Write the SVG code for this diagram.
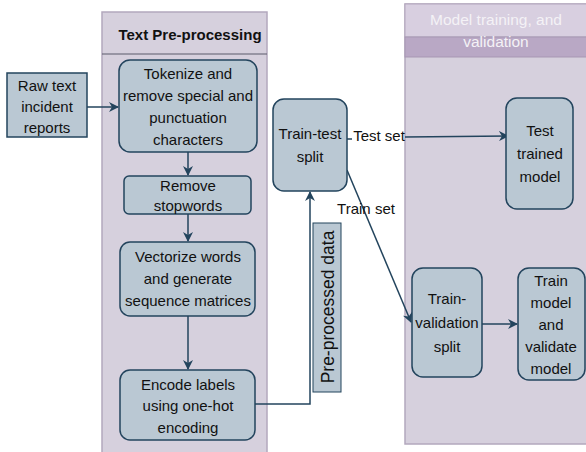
<svg xmlns="http://www.w3.org/2000/svg" width="586" height="452" viewBox="0 0 586 452">
<defs>
<style>
.cont{fill:#d6d0dd;stroke:#b3a8bd;stroke-width:1.5}
.node{fill:#bac8d3;stroke:#23445d;stroke-width:1.5}
.t{font-family:"Liberation Sans",Arial,sans-serif;font-size:15px;fill:#111111;text-anchor:middle}
.hb{font-family:"Liberation Sans",Arial,sans-serif;font-size:15px;font-weight:bold;fill:#111;text-anchor:middle}
.hw{font-family:"Liberation Sans",Arial,sans-serif;font-size:15.5px;fill:#f4f2f6;text-anchor:middle}
.edge{fill:none;stroke:#23445d;stroke-width:1.5}
</style>
<marker id="arr" viewBox="0 0 10 10" refX="9" refY="5" markerWidth="10" markerHeight="10" markerUnits="userSpaceOnUse" orient="auto">
<path d="M0,0 L10,5 L0,10 L3,5 Z" fill="#23445d"/>
</marker>
</defs>
<rect width="586" height="452" fill="#ffffff"/>

<g id="container-text-preprocessing">
<rect class="cont" x="102" y="12" width="165" height="445"/>
<line x1="102" y1="54" x2="267" y2="54" stroke="#5a5a6a" stroke-width="1"/>
<text class="hb" x="190" y="40">Text Pre-processing</text>
</g>

<g id="container-model-training">
<rect class="cont" x="405" y="4" width="186" height="440"/>
<rect x="405" y="4" width="186" height="33" fill="#d8cfe0" stroke="#b3a8bd" stroke-width="1"/>
<rect x="405" y="37" width="186" height="20" fill="#b9a8c5" stroke="#a797b3" stroke-width="1"/>
<text class="hw" x="496" y="25">Model training, and</text>
<text class="hw" x="496" y="47">validation</text>
</g>

<g id="connectors">
<line class="edge" x1="87" y1="107" x2="118" y2="107" marker-end="url(#arr)"/>
<line class="edge" x1="188" y1="152" x2="188" y2="175" marker-end="url(#arr)"/>
<line class="edge" x1="188" y1="214" x2="188" y2="241" marker-end="url(#arr)"/>
<line class="edge" x1="188" y1="316" x2="188" y2="369" marker-end="url(#arr)"/>
<polyline class="edge" points="255,404 310,404 310,192" marker-end="url(#arr)"/>
<line class="edge" x1="347" y1="139" x2="352" y2="139"/>
<line class="edge" x1="405" y1="137" x2="508" y2="136" marker-end="url(#arr)"/>
<line class="edge" x1="347" y1="170" x2="411" y2="322" marker-end="url(#arr)"/>
<line class="edge" x1="482" y1="324" x2="517" y2="324" marker-end="url(#arr)"/>
<text class="t" x="379" y="141">Test set</text>
<text class="t" x="366" y="214">Train set</text>
<g id="label-preprocessed-data">
<rect x="313" y="223" width="28" height="169" fill="#bac8d3" stroke="#23445d" stroke-width="1"/>
<text class="t" style="font-size:17.5px" transform="translate(333.5,307) rotate(-90)" x="0" y="0">Pre-processed data</text>
</g>
</g>

<g id="node-raw-text">
<rect class="node" x="7" y="73" width="80" height="64"/>
<text class="t" x="47" y="91">Raw text</text>
<text class="t" x="47" y="112">incident</text>
<text class="t" x="47" y="133">reports</text>
</g>

<g id="node-tokenize">
<rect class="node" x="119" y="60" width="138" height="92" rx="11"/>
<text class="t" x="188" y="79">Tokenize and</text>
<text class="t" x="188" y="101">remove special and</text>
<text class="t" x="188" y="123">punctuation</text>
<text class="t" x="188" y="145">characters</text>
</g>

<g id="node-remove-stopwords">
<rect class="node" x="124" y="176" width="127" height="38" rx="5"/>
<text class="t" x="188" y="191">Remove</text>
<text class="t" x="188" y="211">stopwords</text>
</g>

<g id="node-vectorize">
<rect class="node" x="120" y="242" width="135" height="74" rx="10"/>
<text class="t" x="188" y="262">Vectorize words</text>
<text class="t" x="188" y="284">and generate</text>
<text class="t" x="188" y="306">sequence matrices</text>
</g>

<g id="node-encode">
<rect class="node" x="120" y="370" width="135" height="70" rx="10"/>
<text class="t" x="188" y="390">Encode labels</text>
<text class="t" x="188" y="411">using one-hot</text>
<text class="t" x="188" y="433">encoding</text>
</g>

<g id="node-train-test-split">
<rect class="node" x="273" y="99" width="74" height="92" rx="11"/>
<text class="t" x="310" y="139">Train-test</text>
<text class="t" x="310" y="162">split</text>
</g>

<g id="node-test-trained-model">
<rect class="node" x="506" y="98" width="67" height="111" rx="11"/>
<text class="t" x="540" y="136">Test</text>
<text class="t" x="540" y="159">trained</text>
<text class="t" x="540" y="182">model</text>
</g>

<g id="node-train-validation-split">
<rect class="node" x="412" y="268" width="70" height="109" rx="11"/>
<text class="t" x="447" y="304">Train-</text>
<text class="t" x="447" y="328">validation</text>
<text class="t" x="447" y="352">split</text>
</g>

<g id="node-train-validate-model">
<rect class="node" x="518" y="268" width="67" height="112" rx="11"/>
<text class="t" x="551" y="286">Train</text>
<text class="t" x="551" y="308">model</text>
<text class="t" x="551" y="330">and</text>
<text class="t" x="551" y="352">validate</text>
<text class="t" x="551" y="374">model</text>
</g>
</svg>
